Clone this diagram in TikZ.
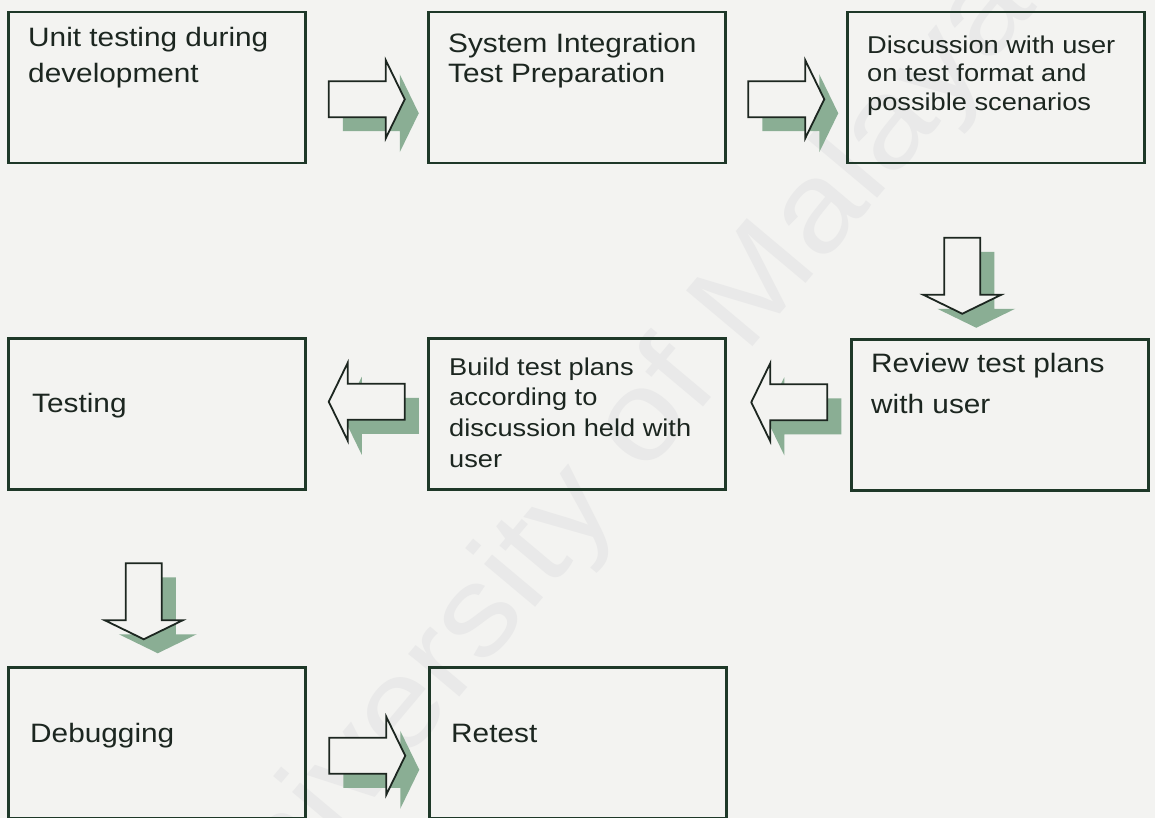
\documentclass[tikz,border=0pt]{standalone}
\usepackage{fontspec}
\setmainfont{Liberation Sans}[FakeStretch=1.12]
\usetikzlibrary{calc}

\definecolor{paper}{RGB}{243,243,241}
\definecolor{frame}{RGB}{30,56,40}
\definecolor{ink}{RGB}{28,38,32}
\definecolor{dropcol}{RGB}{138,174,148}
\definecolor{mark}{RGB}{233,233,233}

\tikzset{
  box/.style={draw=frame, line width=2.5pt, anchor=north west,
    minimum width=297pt, minimum height=151pt, inner sep=0pt},
  lbl/.style={anchor=north west, inner sep=0pt, align=left, text=ink},
  bigfont/.style={font={\fontsize{26.6}{#1}\selectfont}},
  smallfont/.style={font={\fontsize{24.3}{#1}\selectfont}},
  % block arrow pointing right, origin at its middle; #1 = length of the tail
  pics/arrowdrop/.style={code={
    \fill[dropcol] (-#1,18) -- (19,18) -- (19,39) -- (38,0) -- (19,-39)
      -- (19,-18) -- (-#1,-18) -- cycle;}},
  pics/arrowbody/.style={code={
    \filldraw[fill=paper, draw=ink, line width=1.8pt, line join=miter]
      (-#1,18) -- (19,18) -- (19,39) -- (38,0) -- (19,-39)
      -- (19,-18) -- (-#1,-18) -- cycle;}},
}
% hollow block arrow with its drop shadow (shadow always falls right and down)
\newcommand\blockarrow[2]{%
  \pic[rotate=#2] at ($(#1)+(14,-14)$) {arrowdrop=38};
  \pic[rotate=#2] at (#1) {arrowbody=38};}

\begin{document}
\begin{tikzpicture}[x=1pt, y=1pt]
  \fill[paper] (0,0) rectangle (1155,-818);
  \useasboundingbox (0,0) rectangle (1155,-818);

  % faint watermark behind everything
  \node[text=mark, rotate=50, font={\fontsize{126}{136}\selectfont}]
    (wm) at (605,-473) {University of Malaya};

  % process boxes
  \node[box] (b1) at (7,-11) {};
  \node[box] (b2) at (427,-11) {};
  \node[box] (b3) at (846,-11) {};
  \node[box] (b4) at (850,-338) {};
  \node[box] (b5) at (427,-337) {};
  \node[box] (b6) at (7,-337) {};
  \node[box] (b7) at (7,-666) {};
  \node[box] (b8) at (428,-666) {};

  % box texts
  \node[lbl, bigfont=36] (t1) at ($(b1.north west)+(21,-9.8)$)
    {\strut Unit testing during\\development};
  \node[lbl, bigfont=30] (t2) at ($(b2.north west)+(21,-20)$)
    {\strut System Integration\\Test Preparation};
  \node[lbl, smallfont=28.5] (t3) at ($(b3.north west)+(21,-22)$)
    {\strut Discussion with user\\on test format and\\possible scenarios};
  \node[lbl, bigfont=41] (t4) at ($(b4.north west)+(21,-5.3)$)
    {\strut Review test plans\\with user};
  \node[lbl, smallfont=30.7] (t5) at ($(b5.north west)+(22,-16.5)$)
    {\strut Build test plans\\according to\\discussion held with\\user};
  \node[lbl, bigfont=36] (t6) at ($(b6.north west)+(25,-49.8)$)
    {\strut Testing};
  \node[lbl, bigfont=36] (t7) at ($(b7.north west)+(23,-50.8)$)
    {\strut Debugging};
  \node[lbl, bigfont=36] (t8) at ($(b8.north west)+(23,-50.8)$)
    {\strut Retest};

  % arrow positions between the boxes
  \coordinate (a1) at ($(b1.east)!.5!(b2.west)+(0,-11.5)$);
  \coordinate (a2) at ($(b2.east)!.5!(b3.west)+(0,-11.5)$);
  \coordinate (a3) at ($(b3.south)!.5!(b4.north)+(-35.5,-24.5)$);
  \coordinate (a4) at ($(b5.east)!.5!(b4.west)+(1,12)$);
  \coordinate (a5) at ($(b6.east)!.5!(b5.west)+(0,12)$);
  \coordinate (a6) at ($(b6.south)!.5!(b7.north)+(-13,-23)$);
  \coordinate (a7) at ($(b7.east)!.5!(b8.west)+(0,-13)$);

  \blockarrow{a1}{0}
  \blockarrow{a2}{0}
  \blockarrow{a3}{-90}
  \blockarrow{a4}{180}
  \blockarrow{a5}{180}
  \blockarrow{a6}{-90}
  \blockarrow{a7}{0}
\end{tikzpicture}
\end{document}
